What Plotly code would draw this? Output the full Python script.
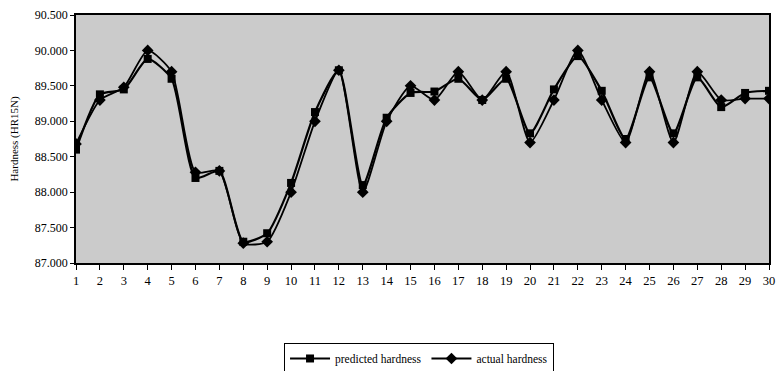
import plotly.graph_objects as go

samples = list(range(1, 31))
predicted = [88.60, 89.38, 89.45, 89.88, 89.60, 88.20, 88.30, 87.30, 87.42, 88.13,
             89.13, 89.72, 88.10, 89.05, 89.40, 89.42, 89.60, 89.30, 89.60, 88.83,
             89.45, 89.92, 89.43, 88.75, 89.62, 88.83, 89.62, 89.20, 89.40, 89.43]
actual = [88.68, 89.30, 89.48, 90.00, 89.70, 88.28, 88.30, 87.28, 87.30, 88.00,
          89.00, 89.72, 88.00, 89.00, 89.50, 89.30, 89.70, 89.30, 89.70, 88.70,
          89.30, 90.00, 89.30, 88.70, 89.70, 88.70, 89.70, 89.30, 89.32, 89.32]
y_ticks = [87.0, 87.5, 88.0, 88.5, 89.0, 89.5, 90.0, 90.5]

fig = go.Figure()
fig.add_trace(go.Scatter(
    x=samples, y=predicted, name="predicted hardness", mode="lines+markers",
    line=dict(color="black", width=2.2, shape="spline", smoothing=0.6),
    marker=dict(symbol="square", size=8, color="black"),
))
fig.add_trace(go.Scatter(
    x=samples, y=actual, name="actual hardness", mode="lines+markers",
    line=dict(color="black", width=1.8, shape="spline", smoothing=0.6),
    marker=dict(symbol="diamond", size=9, color="black"),
))

font = dict(family="Liberation Serif, Times New Roman, serif", color="black", size=12)
fig.update_layout(
    width=777, height=371,
    margin=dict(l=76, r=8, t=15, b=108, autoexpand=False),
    paper_bgcolor="white",
    plot_bgcolor="#cbcbcb",
    font=font,
    showlegend=True,
    legend=dict(orientation="h", x=0.495, xanchor="center", y=-0.385, yanchor="middle",
                bordercolor="black", borderwidth=1, bgcolor="white",
                font=dict(family="Liberation Serif, serif", size=11.5, color="black"),
                itemwidth=40),
)
fig.update_xaxes(
    range=[1, 30], tickvals=samples, ticktext=[str(s) for s in samples],
    showgrid=False, zeroline=False, showline=True, linecolor="black", linewidth=1.5,
    mirror=True, ticks="outside", ticklen=5, tickcolor="black",
    tickfont=dict(size=12.5), automargin=False,
)
fig.update_yaxes(
    range=[87.0, 90.5], tickvals=y_ticks, tickformat=".3f",
    showgrid=False, zeroline=False, showline=True, linecolor="black", linewidth=1.5,
    mirror=True, ticks="outside", ticklen=4, tickcolor="black",
    title=dict(text="Hardness (HR15N)", font=dict(size=11), standoff=14),
    tickfont=dict(size=12), automargin=False,
)
fig.write_html("out.html", config={"displayModeBar": False},
               post_script="document.body.style.margin='0';")
